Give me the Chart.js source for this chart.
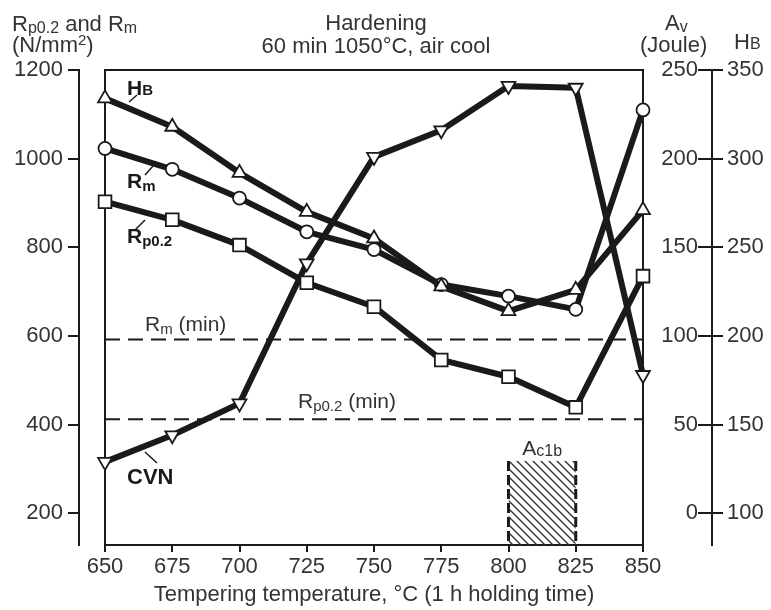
<!DOCTYPE html>
<html>
<head>
<meta charset="utf-8">
<script src="https://cdn.jsdelivr.net/npm/chart.js@4.4.1/dist/chart.umd.min.js"></script>
<style>
  body { margin: 0; background: #fff; }
</style>
</head>
<body>
<canvas id="hardChart" width="771" height="610"></canvas>
<script>
// tempering temperatures (°C)
const temps = [650, 675, 700, 725, 750, 775, 800, 825, 850];
// series
const hbValues = [334, 318, 292, 270, 255, 228, 214, 226, 271];      // HB
const rmValues = [1023, 976, 911, 835, 795, 716, 690, 660, 1110];    // Rm, N/mm2
const rpValues = [903, 862, 805, 720, 666, 546, 508, 439, 735];      // Rp0.2, N/mm2
const cvnValues = [29, 44, 62, 141, 201, 216, 241, 240, 78];         // CVN, Joule
const rmMin = 592;
const rpMin = 412;
const ac1bRange = [800, 825];
const ac1bTop = 318;

// axes
const xTicks = [650, 675, 700, 725, 750, 775, 800, 825, 850];
const stressTicks = [200, 400, 600, 800, 1000, 1200];
const avTicks = [0, 50, 100, 150, 200, 250];
const hbTicks = [100, 150, 200, 250, 300, 350];
const stressRange = [128.5, 1200];
// Av and HB axes are aligned with the stress axis: 200 -> 0 J -> 100 HB
const avRange = stressRange.map(v => (v - 200) / 4);
const hbRange = avRange.map(v => v + 100);

const ink = '#1a1a1a';
const txt = '#333';
const family = "'Liberation Sans', Arial, sans-serif";
Chart.defaults.font.family = family;

const pts = vals => temps.map((t, i) => ({ x: t, y: vals[i] }));
const setTicks = list => s => { s.ticks = list.map(v => ({ value: v })); };
const plain = v => String(v);

// diagonal hatch for the Ac1b band
function hatch() {
    const c = document.createElement('canvas');
    c.width = 8; c.height = 8;
    const g = c.getContext('2d');
    g.strokeStyle = '#333';
    g.lineWidth = 1.4;
    g.beginPath();
    g.moveTo(0, 0); g.lineTo(8, 8);
    g.moveTo(-2, 6); g.lineTo(2, 10);
    g.moveTo(6, -2); g.lineTo(10, 2);
    g.stroke();
    return g.createPattern(c, 'repeat');
}

function drawRuns(ctx, x, y, parts, align) {
    const fontOf = p => (p[2] ? 'bold ' : '') + p[1] + 'px ' + family;
    const widths = parts.map(p => { ctx.font = fontOf(p); return ctx.measureText(p[0]).width; });
    const total = widths.reduce((a, b) => a + b, 0);
    let cx = align === 'center' ? x - total / 2 : x;
    parts.forEach((p, i) => {
        ctx.font = fontOf(p);
        ctx.fillText(p[0], cx, y + (p[3] || 0));
        cx += widths[i];
    });
}

const notes = {
    id: 'notes',
    afterDraw(chart) {
        const ctx = chart.ctx;
        const ca = chart.chartArea;
        ctx.save();
        ctx.fillStyle = txt;
        ctx.textAlign = 'left';
        ctx.textBaseline = 'alphabetic';
        const mid = (ca.left + ca.right) / 2;

        // headers
        drawRuns(ctx, mid + 2, 30, [['Hardening', 22]], 'center');
        drawRuns(ctx, mid + 2, 53, [['60 min 1050°C, air cool', 22]], 'center');
        drawRuns(ctx, 12, 31, [['R', 22], ['p0.2', 16, false, 2], [' and R', 22], ['m', 16, false, 2]]);
        drawRuns(ctx, 12, 52, [['(N/mm', 22], ['2', 15, false, -7], [')', 22]]);
        drawRuns(ctx, 665, 30, [['A', 22], ['v', 16, false, 2]]);
        drawRuns(ctx, 640, 52, [['(Joule)', 22]]);
        drawRuns(ctx, 734, 49, [['H', 22], ['B', 16]]);

        // curve labels
        ctx.fillStyle = ink;
        drawRuns(ctx, ca.left + 22, 95, [['H', 21, true], ['B', 15, true]]);
        drawRuns(ctx, ca.left + 22, 188, [['R', 21, true], ['m', 15, true, 3]]);
        drawRuns(ctx, ca.left + 22, 243, [['R', 21, true], ['p0.2', 15, true, 3]]);
        drawRuns(ctx, ca.left + 22, 484, [['CVN', 22, true]]);

        ctx.fillStyle = txt;
        drawRuns(ctx, ca.left + 40, 331, [['R', 21], ['m', 15, false, 3], [' (min)', 21]]);
        drawRuns(ctx, ca.left + 193, 408, [['R', 21], ['p0.2', 15, false, 3], [' (min)', 21]]);
        const sx = chart.scales.x;
        const acMid = (sx.getPixelForValue(ac1bRange[0]) + sx.getPixelForValue(ac1bRange[1])) / 2;
        drawRuns(ctx, acMid, 455, [['A', 21], ['c1b', 16, false, 1]], 'center');

        // leader lines
        ctx.strokeStyle = ink;
        ctx.lineWidth = 1.5;
        ctx.beginPath();
        ctx.moveTo(ca.left + 24, 102); ctx.lineTo(ca.left + 32, 95);
        ctx.moveTo(ca.left + 40, 175); ctx.lineTo(ca.left + 48, 166);
        ctx.moveTo(ca.left + 30, 230); ctx.lineTo(ca.left + 40, 220);
        ctx.moveTo(ca.left + 52, 463); ctx.lineTo(ca.left + 40, 452);
        ctx.stroke();
        ctx.restore();
    }
};

const curve = (label, vals, axis, style, radius, rotation) => ({
    label: label,
    data: pts(vals),
    yAxisID: axis,
    borderColor: ink,
    borderWidth: 6,
    borderJoinStyle: 'round',
    pointStyle: style,
    pointRadius: radius,
    pointRotation: rotation || 0,
    pointBackgroundColor: '#fff',
    pointBorderColor: ink,
    pointBorderWidth: 1.8,
    clip: false
});

const dashed = (vals, dash, width) => ({
    data: vals,
    yAxisID: 'y',
    borderColor: ink,
    borderWidth: width,
    borderDash: dash,
    pointRadius: 0,
    fill: false
});

new Chart(document.getElementById('hardChart').getContext('2d'), {
    type: 'line',
    data: {
        datasets: [
            dashed([{ x: 650, y: rmMin }, { x: 850, y: rmMin }], [15, 8], 2),
            dashed([{ x: 650, y: rpMin }, { x: 850, y: rpMin }], [15, 8], 2),
            {
                data: [{ x: ac1bRange[0], y: ac1bTop }, { x: ac1bRange[1], y: ac1bTop }],
                yAxisID: 'y',
                borderWidth: 0,
                pointRadius: 0,
                backgroundColor: hatch(),
                fill: 'start'
            },
            dashed([{ x: ac1bRange[0], y: ac1bTop }, { x: ac1bRange[0], y: stressRange[0] }], [10, 4], 3),
            dashed([{ x: ac1bRange[1], y: ac1bTop }, { x: ac1bRange[1], y: stressRange[0] }], [10, 4], 3),
            curve('HB', hbValues, 'yHB', 'triangle', 8),
            curve('Rm', rmValues, 'y', 'circle', 6.5),
            curve('Rp0.2', rpValues, 'y', 'rect', 9),
            curve('CVN', cvnValues, 'yAv', 'triangle', 8, 180)
        ]
    },
    options: {
        responsive: false,
        animation: false,
        events: [],
        plugins: {
            legend: { display: false },
            tooltip: { enabled: false }
        },
        scales: {
            x: {
                type: 'linear', position: 'bottom', min: 650, max: 850,
                afterBuildTicks: setTicks(xTicks),
                afterFit: s => { s.height = 65; },
                grid: { display: true, drawOnChartArea: false, drawTicks: true, tickLength: 7, color: ink, lineWidth: 2 },
                border: { display: true, color: ink, width: 2 },
                ticks: { padding: 2, color: txt, font: { size: 22 }, callback: plain },
                title: {
                    display: true,
                    text: 'Tempering temperature, °C (1 h holding time)',
                    color: txt,
                    font: { size: 22 },
                    padding: { top: 0, bottom: 2 }
                }
            },
            xTop: {
                type: 'linear', position: 'top', min: 650, max: 850,
                afterFit: s => { s.height = 70; },
                grid: { display: false, drawTicks: false },
                ticks: { display: false },
                border: { display: true, color: ink, width: 2 }
            },
            y: {
                type: 'linear', position: 'left', weight: 1,
                min: stressRange[0], max: stressRange[1],
                afterBuildTicks: setTicks(stressTicks),
                afterFit: s => { s.width = 79; },
                grid: { display: true, drawOnChartArea: false, drawTicks: true, tickLength: 11, color: ink, lineWidth: 2 },
                border: { display: true, color: ink, width: 2 },
                ticks: { padding: 5, color: txt, font: { size: 22 }, callback: plain }
            },
            gapL: {
                type: 'linear', position: 'left', weight: 0,
                min: stressRange[0], max: stressRange[1],
                afterFit: s => { s.width = 26; },
                grid: { display: false, drawTicks: false },
                ticks: { display: false },
                border: { display: true, color: ink, width: 2 }
            },
            yAv: {
                type: 'linear', position: 'right', weight: 0,
                min: avRange[0], max: avRange[1],
                afterBuildTicks: setTicks(avTicks),
                afterFit: s => { s.width = 55; },
                grid: { display: false, drawTicks: false },
                border: { display: true, color: ink, width: 2 },
                ticks: { crossAlign: 'far', padding: 17, color: txt, font: { size: 22 }, callback: plain }
            },
            yAvMarks: {
                type: 'linear', position: 'right', weight: 1,
                min: avRange[0], max: avRange[1],
                afterBuildTicks: setTicks(avTicks),
                afterFit: s => { s.width = 14; },
                grid: { display: true, drawOnChartArea: false, drawTicks: true, tickLength: 14, color: ink, lineWidth: 2 },
                ticks: { display: false },
                border: { display: false }
            },
            yHB: {
                type: 'linear', position: 'right', weight: 2,
                min: hbRange[0], max: hbRange[1],
                afterBuildTicks: setTicks(hbTicks),
                afterFit: s => { s.width = 59; },
                grid: { display: true, drawOnChartArea: false, drawTicks: true, tickLength: 11, color: ink, lineWidth: 2 },
                border: { display: true, color: ink, width: 2 },
                ticks: { padding: 4, color: txt, font: { size: 22 }, callback: plain }
            }
        }
    },
    plugins: [notes]
});
</script>
</body>
</html>
